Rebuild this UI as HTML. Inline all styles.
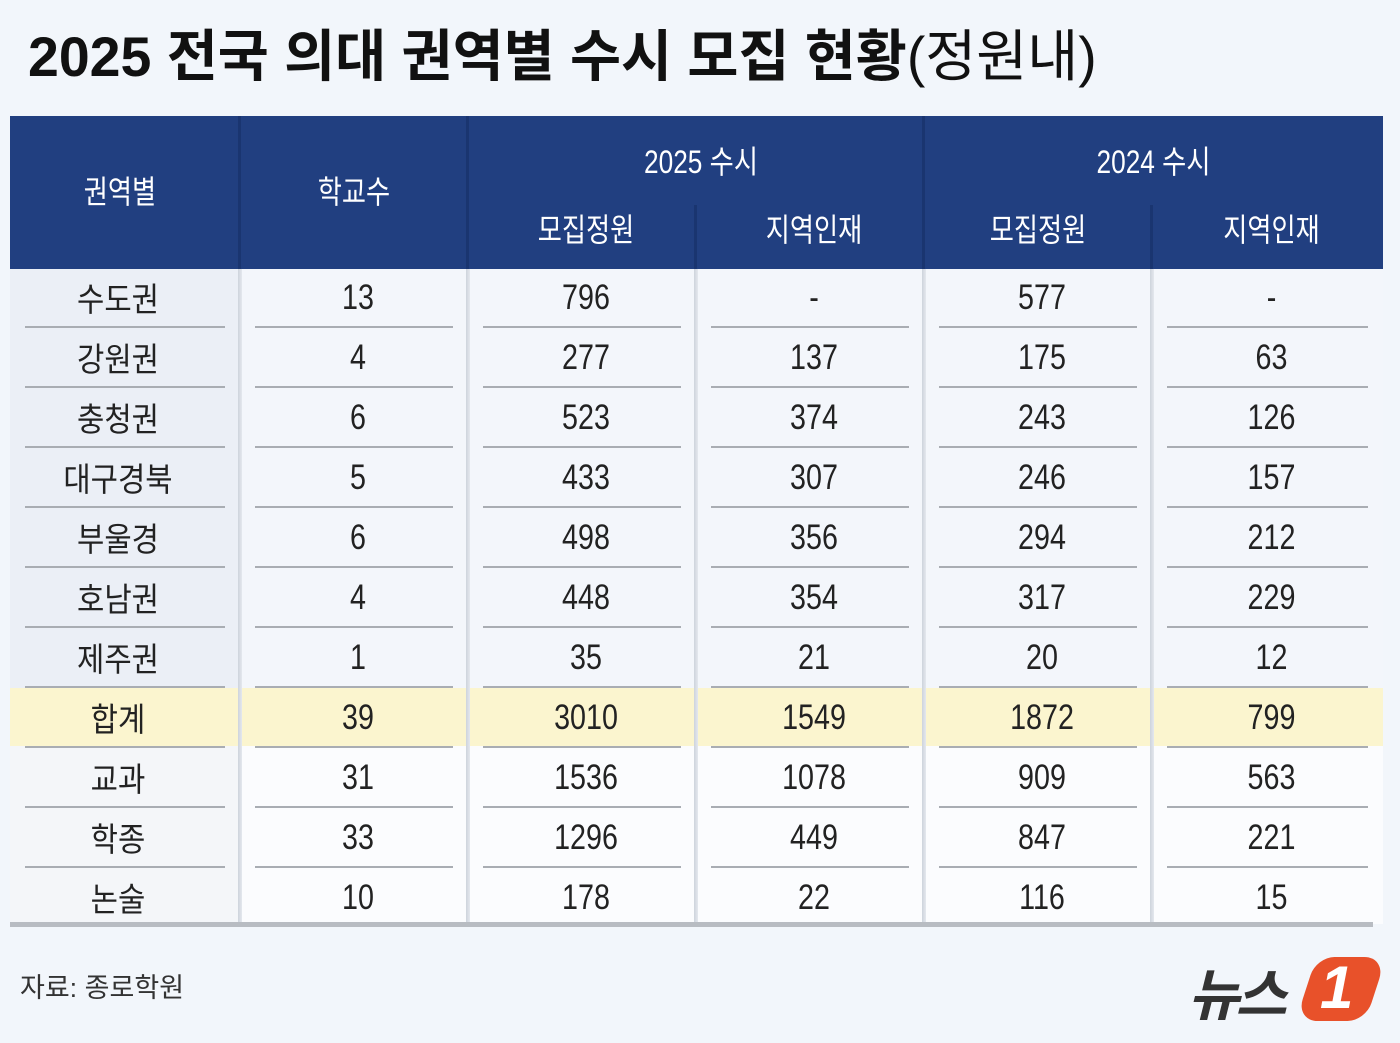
<!DOCTYPE html>
<html><head><meta charset="utf-8"><style>
body{margin:0;width:1400px;height:1043px;background:#f2f6fb;position:relative;overflow:hidden;font-family:"Liberation Sans","Noto Sans CJK KR",sans-serif;}
.a{position:absolute}
.t{position:absolute;text-align:center;font-size:35px;line-height:40px;color:#222;transform:scaleX(0.82);}
.k{font-size:33px;transform:scaleX(0.9);}
.h{color:#fff;font-size:32px}
</style></head><body>
<div class="a" style="left:28px;top:24px;font-size:56px;line-height:66px;font-weight:bold;color:#111;transform:scaleX(0.99);transform-origin:left">2025 전국 의대 권역별 수시 모집 현황<span style="font-weight:normal">(정원내)</span></div>
<div class="a" style="left:10px;top:116px;width:1373px;height:153px;background:#213f80"></div>
<div id="tbl"></div>
<div class="a" style="left:20px;top:966px;font-size:27px;color:#333">자료: 종로학원</div>
<div class="a" style="left:1188px;top:955px;width:190px;height:70px">
<span style="position:absolute;left:0;top:-4px;font-size:56px;font-weight:bold;font-style:italic;color:#333;letter-spacing:-4px">뉴스</span>
<div style="position:absolute;left:118px;top:2px;width:70px;height:64px;background:#e8512a;border-radius:18px 22px 18px 22px;transform:skewX(-18deg)"></div>
<span style="position:absolute;left:132px;top:-2px;font-size:60px;font-weight:bold;font-style:italic;color:#fff">1</span></div>
<script>
const regions=['수도권','강원권','충청권','대구경북','부울경','호남권','제주권','합계','교과','학종','논술'];
const schools=['13','4','6','5','6','4','1','39','31','33','10'];
const cap25=['796','277','523','433','498','448','35','3010','1536','1296','178'];
const loc25=['-','137','374','307','356','354','21','1549','1078','449','22'];
const cap24=['577','175','243','246','294','317','20','1872','909','847','116'];
const loc24=['-','63','126','157','212','229','12','799','563','221','15'];
const cols=[10,240,468,696,924,1152,1383];
const cols2=[regions,schools,cap25,loc25,cap24,loc24];
const root=document.getElementById('tbl');
function add(html,name){const d=document.createElement('div');d.innerHTML=html;const e=d.firstChild;


root.appendChild(e);return e;}
for(let c=0;c<6;c++){
 add(`<div class="a" style="left:${cols[c]}px;top:269px;width:${cols[c+1]-cols[c]}px;height:420px;background:${c==0?'#ebeff6':'#f3f6fb'}"></div>`,'column-bg');
 add(`<div class="a" style="left:${cols[c]}px;top:746px;width:${cols[c+1]-cols[c]}px;height:178px;background:${c==0?'#f4f6f9':'#fbfcfe'}"></div>`,'column-bg');
}
add(`<div class="a" style="left:10px;top:688px;width:1373px;height:58px;background:#fbf5cf"></div>`,'total-row-bg');
for(let c=1;c<6;c++){
 const sub=(c==3||c==5);
 add(`<div class="a" style="left:${cols[c]-2}px;top:${sub?205:116}px;width:3px;height:${sub?64:153}px;background:#1a3570"></div>`,'header-separator');
 add(`<div class="a" style="left:${cols[c]-2}px;top:269px;width:4px;height:655px;background:linear-gradient(90deg,#cdd3dc,#e4e8ee)"></div>`,'column-separator');
}
add(`<div class="a" style="left:10px;top:922px;width:1363px;height:5px;background:#b8bcc2"></div>`,'table-bottom-border');
const hdr=[['권역별',0,240,190],['학교수',240,468,190],['2025 수시',468,934,160],['2024 수시',924,1383,160],['모집정원',476,696,228],['지역인재',704,924,228],['모집정원',924,1152,228],['지역인재',1160,1383,228]];
hdr.forEach(h=>add(`<div class="t h" style="left:${h[1]}px;width:${h[2]-h[1]}px;top:${h[3]-18}px">${h[0]}</div>`,'header-cell'));
for(let r=0;r<regions.length;r++){
 const cy=297+60*r;
 for(let c=0;c<6;c++){
  const sh=c==0?-7:4;
  add(`<div class="t${c==0?' k':''}" style="left:${cols[c]+sh}px;width:${cols[c+1]-cols[c]}px;top:${cy-(c==0?17:19)}px">${cols2[c][r]}</div>`,'table-cell');
  if(r<regions.length-1){
   add(`<div class="a" style="left:${cols[c]+15}px;top:${cy+29}px;width:${cols[c+1]-cols[c]-30}px;height:2px;background:#a9adb3"></div>`,'row-divider');
  }
 }
}
</script>
</body></html>
